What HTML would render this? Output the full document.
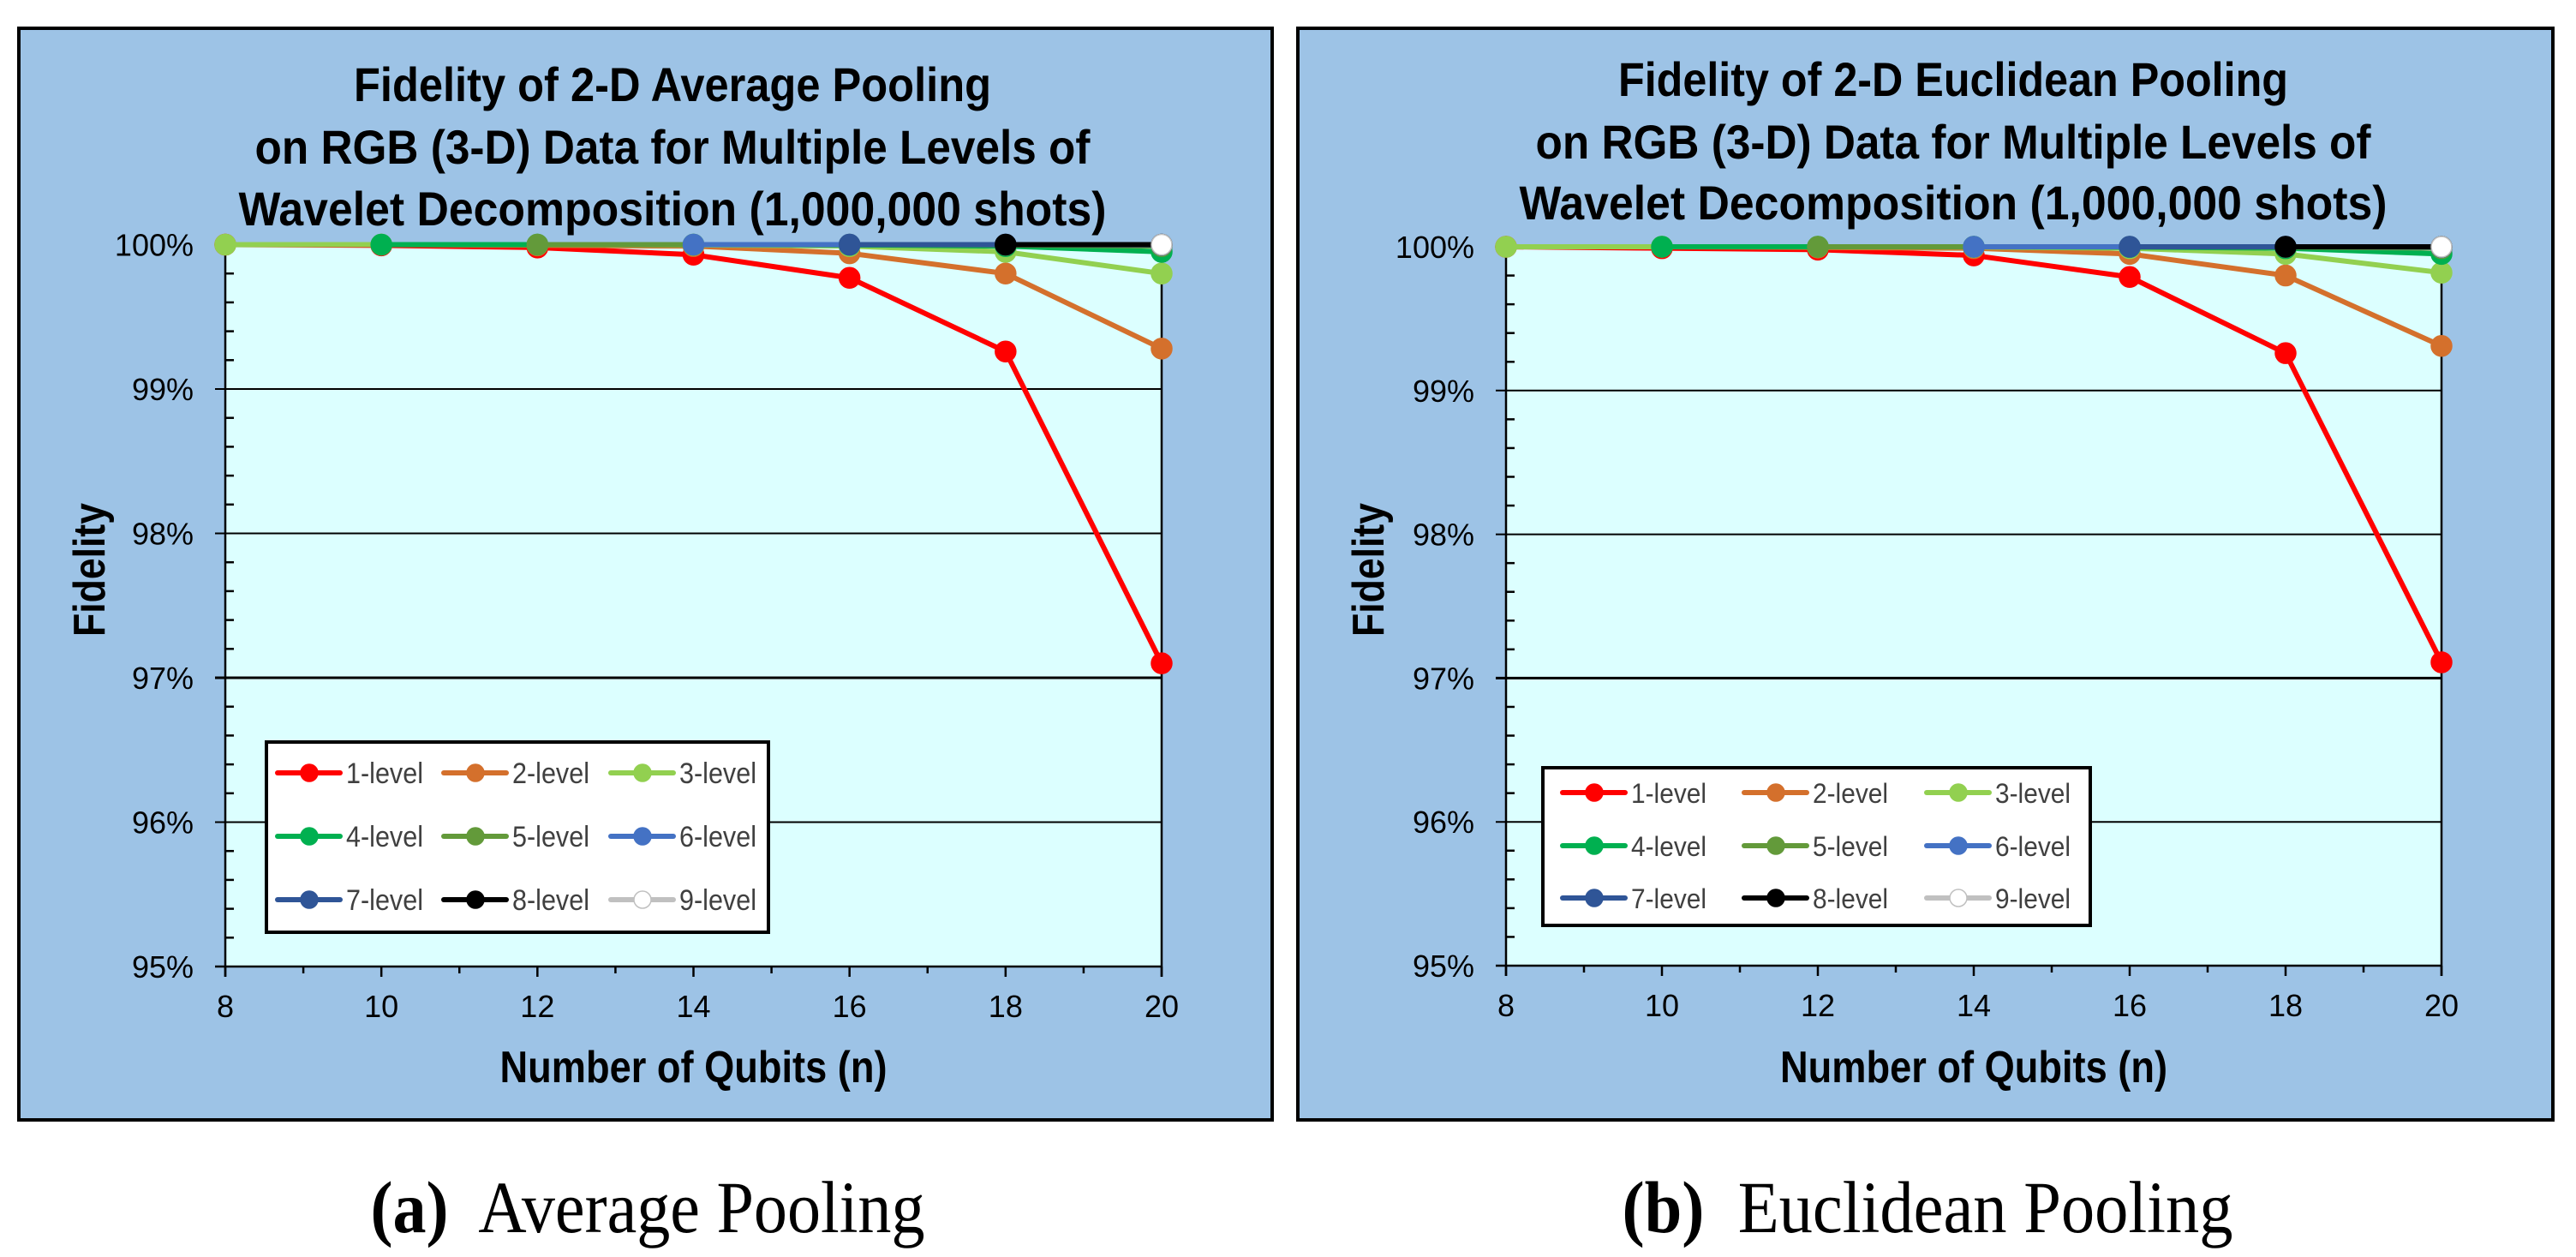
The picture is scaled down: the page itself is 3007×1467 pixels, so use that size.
<!DOCTYPE html>
<html><head><meta charset="utf-8"><style>
html,body{margin:0;padding:0;background:#fff;}
svg{display:block;}
</style></head><body>
<svg id="fig" width="3007" height="1467" viewBox="0 0 3007 1467" xmlns="http://www.w3.org/2000/svg" font-family="'Liberation Sans', sans-serif"></svg>
<script>
const xCats = [8, 10, 12, 14, 16, 18, 20];
const yTicks = [95, 96, 97, 98, 99, 100];
const yTickLabels = ['95%', '96%', '97%', '98%', '99%', '100%'];
const seriesNames = ['1-level','2-level','3-level','4-level','5-level','6-level','7-level','8-level','9-level'];
// Average pooling (null = no point)
const avg1 = [100, 99.995, 99.98, 99.93, 99.77, 99.26, 97.10];
const avg2 = [100, 100, 99.995, 99.99, 99.94, 99.80, 99.28];
const avg3 = [100, 100, 100, 99.998, 99.99, 99.95, 99.80];
const avg4 = [null, 100, 100, 100, 99.998, 99.99, 99.95];
const avg5 = [null, null, 100, 100, 100, 99.998, 99.99];
const avg6 = [null, null, null, 100, 100, 100, 99.998];
const avg7 = [null, null, null, null, 100, 100, 100];
const avg8 = [null, null, null, null, null, 100, 100];
const avg9 = [null, null, null, null, null, null, 100];
// Euclidean pooling
const euc1 = [100, 99.99, 99.98, 99.94, 99.79, 99.26, 97.11];
const euc2 = [100, 100, 99.995, 99.99, 99.95, 99.80, 99.31];
const euc3 = [100, 100, 100, 99.998, 99.99, 99.95, 99.82];
const euc4 = [null, 100, 100, 100, 99.998, 99.99, 99.95];
const euc5 = [null, null, 100, 100, 100, 99.998, 99.99];
const euc6 = [null, null, null, 100, 100, 100, 99.998];
const euc7 = [null, null, null, null, 100, 100, 100];
const euc8 = [null, null, null, null, null, 100, 100];
const euc9 = [null, null, null, null, null, null, 100];

const colors = ['#ff0000','#d4702c','#92d050','#00b050','#639a3a','#4472c4','#2f5597','#000000','#c0c0c0'];
const markerFill = ['#ff0000','#d4702c','#92d050','#00b050','#639a3a','#4472c4','#2f5597','#000000','#ffffff'];
const NS = 'http://www.w3.org/2000/svg';
const svg = document.getElementById('fig');
function mk(tag, attrs, parent, text){
  const e = document.createElementNS(NS, tag);
  for (const k in attrs) e.setAttribute(k, attrs[k]);
  if (text !== undefined) e.textContent = text;
  (parent || svg).appendChild(e);
  return e;
}

function drawChart(cfg){
  const g = mk('g', {});
  
  
  const fr = mk('rect', {x: cfg.fx, y: cfg.fy, width: cfg.fw, height: cfg.fh, fill: '#9dc3e6', stroke: '#000', 'stroke-width': 4}, g);
  
  
  const X = v => cfg.px0 + (v - 8) / 12 * (cfg.px1 - cfg.px0);
  const Y = v => cfg.py100 + (100 - v) * cfg.pp;
  const yb = Y(95);
  const pa = mk('rect', {x: cfg.px0, y: Y(100), width: cfg.px1 - cfg.px0, height: yb - Y(100), fill: '#dcffff'}, g);
  
  
  yTicks.forEach((t, i) => {
    if (t === 95 || t === 100) return;
    const l = mk('line', {x1: cfg.px0 - 12, x2: cfg.px1, y1: Y(t), y2: Y(t), stroke: '#000', 'stroke-width': t === 97 ? 3 : 2}, g);
    
    
  });
  for (let v = 95; v < 100; v += 0.2) {
    const r = Math.round(v * 10) / 10;
    if (Math.abs(r - Math.round(r)) < 0.01) continue;
    const l = mk('line', {x1: cfg.px0, x2: cfg.px0 + 10, y1: Y(r), y2: Y(r), stroke: '#000', 'stroke-width': 2.5}, g);
    
    
  }
  const ax = mk('line', {x1: cfg.px0, x2: cfg.px0, y1: Y(100), y2: yb + 12, stroke: '#000', 'stroke-width': 2.5}, g);
  
  
  const rx = mk('line', {x1: cfg.px1, x2: cfg.px1, y1: Y(100), y2: yb + 12, stroke: '#000', 'stroke-width': 2.5}, g);
  
  
  const xa = mk('line', {x1: cfg.px0 - 12, x2: cfg.px1, y1: yb, y2: yb, stroke: '#000', 'stroke-width': 2.5}, g);
  
  
  for (let v = 8; v <= 20; v++) {
    const l = mk('line', {x1: X(v), x2: X(v), y1: yb, y2: yb + (v % 2 === 0 ? 12 : 8), stroke: '#000', 'stroke-width': 2.5}, g);
    
    
  }
  yTicks.forEach((t, i) => {
    const tx = mk('text', {x: cfg.px0 - 37, y: Y(t) + 13, 'text-anchor': 'end', 'font-size': 36, fill: '#000'}, g, yTickLabels[i]);
    
    
  });
  xCats.forEach(c => {
    const tx = mk('text', {x: X(c), y: yb + 59, 'text-anchor': 'middle', 'font-size': 36, fill: '#000'}, g, String(c));
    
    
  });
  cfg.title.forEach((line, i) => {
    const tx = mk('text', {x: cfg.tcx, y: cfg.ty[i], 'text-anchor': 'middle', 'font-size': 56, 'font-weight': 'bold', fill: '#000', textLength: cfg.tw[i], lengthAdjust: 'spacingAndGlyphs'}, g, line);
    
    
  });
  const xt = mk('text', {x: (cfg.px0 + cfg.px1) / 2, y: cfg.xty, 'text-anchor': 'middle', 'font-size': 52, 'font-weight': 'bold', textLength: 452, lengthAdjust: 'spacingAndGlyphs'}, g, 'Number of Qubits (n)');
  
  
  const yt = mk('text', {x: 0, y: 0, transform: `translate(${cfg.ytx},${cfg.yty}) rotate(-90)`, 'text-anchor': 'middle', 'font-size': 52, 'font-weight': 'bold', textLength: 156, lengthAdjust: 'spacingAndGlyphs'}, g, 'Fidelity');
  
  
  cfg.data.forEach((arr, s) => {
    const pts = [];
    arr.forEach((v, i) => { if (v !== null) pts.push([X(xCats[i]), Y(v)]); });
    const sg = mk('g', {}, g);
    
    
    const pl = mk('polyline', {points: pts.map(p => p.join(',')).join(' '), fill: 'none', stroke: colors[s], 'stroke-width': 6, 'stroke-linejoin': 'round'}, sg);
    
    
    pts.forEach(p => {
      const c = mk('circle', {cx: p[0], cy: p[1], r: 12, fill: markerFill[s], stroke: colors[s], 'stroke-width': 1.5}, sg);
      
      
    });
  });
  const L = cfg.leg;
  const lg = mk('g', {}, g);
  
  
  mk('rect', {x: L.x, y: L.y, width: L.w, height: L.h, fill: '#fff', stroke: '#000', 'stroke-width': 4}, lg);
  seriesNames.forEach((n, s) => {
    const col = s % 3, row = Math.floor(s / 3);
    const lx = L.cx[col], ly = L.ry[row];
    const eg = mk('g', {}, lg);
    
    
    mk('line', {x1: lx, x2: lx + 73, y1: ly, y2: ly, stroke: colors[s], 'stroke-width': 6, 'stroke-linecap': 'round'}, eg);
    mk('circle', {cx: lx + 37, cy: ly, r: 10, fill: markerFill[s], stroke: colors[s], 'stroke-width': 1.5}, eg);
    mk('text', {x: lx + 80, y: ly + 12, 'font-size': L.fs, fill: '#404040', textLength: L.tl, lengthAdjust: 'spacingAndGlyphs'}, eg, n);
  });
}

drawChart({
  id: 'average', fx: 22, fy: 33, fw: 1463, fh: 1274,
  px0: 263, px1: 1356, py100: 285.5, pp: 168.5,
  title: ['Fidelity of 2-D Average Pooling', 'on RGB (3-D) Data for Multiple Levels of', 'Wavelet Decomposition (1,000,000 shots)'],
  tcx: 785, ty: [118, 191, 263], tw: [744, 975, 1013],
  xty: 1263, ytx: 122, yty: 665,
  data: [avg1, avg2, avg3, avg4, avg5, avg6, avg7, avg8, avg9],
  leg: {x: 311, y: 866, w: 586, h: 222, cx: [324, 518, 713], ry: [902, 976, 1050], fs: 34, tl: 90}
});
drawChart({
  id: 'euclidean', fx: 1515, fy: 33, fw: 1465, fh: 1274,
  px0: 1758, px1: 2850, py100: 288, pp: 167.8,
  title: ['Fidelity of 2-D Euclidean Pooling', 'on RGB (3-D) Data for Multiple Levels of', 'Wavelet Decomposition (1,000,000 shots)'],
  tcx: 2280, ty: [112, 185, 256], tw: [782, 975, 1013],
  xty: 1263, ytx: 1615, yty: 665,
  data: [euc1, euc2, euc3, euc4, euc5, euc6, euc7, euc8, euc9],
  leg: {x: 1801, y: 896, w: 639, h: 184, cx: [1824, 2036, 2249], ry: [925, 987, 1048], fs: 32, tl: 88}
});

const ca = mk('text', {x: 756, y: 1438, 'text-anchor': 'middle', 'font-size': 86, 'font-family': "'Liberation Serif', serif", textLength: 647, lengthAdjust: 'spacingAndGlyphs'});


mk('tspan', {'font-weight': 'bold'}, ca, '(a)');
mk('tspan', {}, ca, '\u00a0 Average Pooling');
const cb = mk('text', {x: 2250, y: 1438, 'text-anchor': 'middle', 'font-size': 86, 'font-family': "'Liberation Serif', serif", textLength: 713, lengthAdjust: 'spacingAndGlyphs'});


mk('tspan', {'font-weight': 'bold'}, cb, '(b)');
mk('tspan', {}, cb, '\u00a0 Euclidean Pooling');
</script>
</body></html>
